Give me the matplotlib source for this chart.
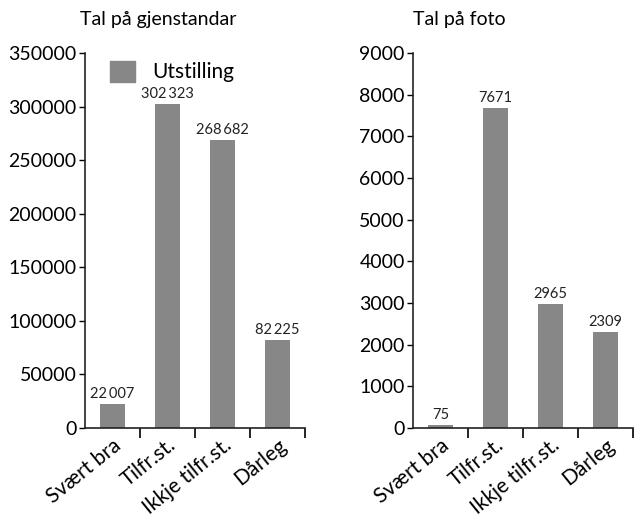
import matplotlib
matplotlib.use("Agg")
import matplotlib.pyplot as plt
from matplotlib.patches import Patch

plt.rcParams['font.family'] = ['Lato', 'DejaVu Sans']

categories = ["Svært bra", "Tilfr.st.", "Ikkje tilfr.st.", "Dårleg"]
gjenstandar = [22007, 302323, 268682, 82225]
foto = [75, 7671, 2965, 2309]
left_ticks = [0, 50000, 100000, 150000, 200000, 250000, 300000, 350000]
right_ticks = [0, 1000, 2000, 3000, 4000, 5000, 6000, 7000, 8000, 9000]
titles = ["Tal på gjenstandar", "Tal på foto"]
legend_label = "Utstilling"

bar_color = "#878787"

fig = plt.figure(figsize=(6.35, 5.17), dpi=100)
ax1 = fig.add_axes([85/635, 1-428/517, 220/635, 375/517])
ax2 = fig.add_axes([413/635, 1-428/517, 220/635, 375/517])

def fmt(v):
    return f"{v:,}".replace(",", "\u2009") if v >= 10000 else str(v)

for ax, vals, ticks, top in [(ax1, gjenstandar, left_ticks, 350000), (ax2, foto, right_ticks, 9000)]:
    x = list(range(len(categories)))
    ax.bar(x, vals, width=0.45, color=bar_color)
    ax.set_xlim(-0.5, 3.5)
    ax.set_ylim(0, top)
    ax.set_yticks(ticks)
    ax.set_yticklabels([str(t) for t in ticks], fontsize=14)
    ax.set_xticks([0.5, 1.5, 2.5, 3.5])
    ax.set_xticklabels([])
    ax.set_xticks(x, minor=True)
    ax.set_xticklabels(categories, minor=True, rotation=39, ha='right',
                       rotation_mode='anchor', fontsize=15)
    ax.tick_params(axis='x', which='minor', length=0, pad=5)
    ax.tick_params(axis='x', which='major', length=7, direction='out', width=1.2)
    ax.tick_params(axis='y', length=4, width=1, pad=2)
    for s in ['top', 'right']:
        ax.spines[s].set_visible(False)
    for s in ['left', 'bottom']:
        ax.spines[s].set_linewidth(1.2)
        ax.spines[s].set_color('#222222')
    for xi, v in zip(x, vals):
        ax.text(xi, v + top * 0.008, fmt(v), ha='center', va='bottom', fontsize=10.5,
                color='#222222')

ax1.legend(handles=[Patch(color=bar_color, label=legend_label)], loc='upper left',
           frameon=False, fontsize=15, handlelength=1.2, handleheight=1.2,
           bbox_to_anchor=(0.03, 1.03), handletextpad=0.8)

fig.text(80/635, 1-20/517, titles[0], fontsize=14, ha='left', va='center')
fig.text(413/635, 1-20/517, titles[1], fontsize=14, ha='left', va='center')

fig.savefig("out.png", dpi=100)
